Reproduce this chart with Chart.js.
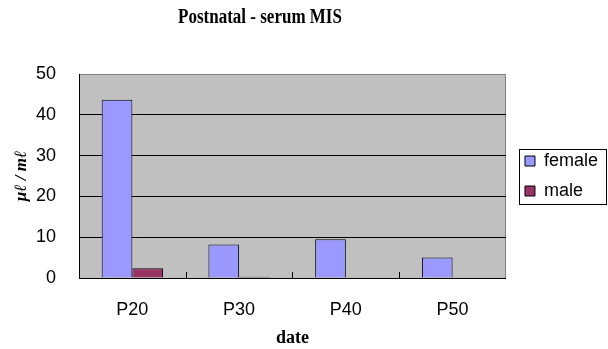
<!DOCTYPE html>
<html>
<head>
<meta charset="utf-8">
<script src="https://cdn.jsdelivr.net/npm/chart.js@4"></script>
<style>
  html, body { margin: 0; padding: 0; background: #fff; }
  #wrap { width: 608px; height: 349px; position: relative; }
</style>
</head>
<body>
<div id="wrap"><canvas id="chart"></canvas></div>
<script>
const categories = ["P20", "P30", "P40", "P50"];
const femaleValues = [43.7, 8.2, 9.5, 5.0];
const maleValues = [2.4, 0.3, 0, 0];
const yTicks = [0, 10, 20, 30, 40, 50];

const chartTitle = "Postnatal - serum MIS";

// grey plot background, outer frame, small category ticks, title and legend frame
const plotFrame = {
  id: "plotFrame",
  beforeDraw(chart) {
    const { ctx, chartArea: a } = chart;
    ctx.save();
    ctx.fillStyle = "#c0c0c0";
    ctx.fillRect(a.left, a.top, a.right - a.left, a.bottom - a.top);
    ctx.strokeStyle = "#808080";
    ctx.lineWidth = 1;
    ctx.strokeRect(a.left + 0.5, a.top + 0.5, a.right - a.left - 1, a.bottom - a.top);
    ctx.restore();
  },
  afterDatasetsDraw(chart) {
    const { ctx, chartArea: a, scales } = chart;
    const x = scales.x;
    const half = (x.getPixelForValue(1) - x.getPixelForValue(0)) / 2;
    ctx.save();
    ctx.strokeStyle = "#000";
    ctx.lineWidth = 1;
    ctx.beginPath();
    for (let i = 1; i < categories.length; i++) {
      const px = Math.round(x.getPixelForValue(i) - half) + 0.5;
      ctx.moveTo(px, a.bottom);
      ctx.lineTo(px, a.bottom - 6);
    }
    ctx.stroke();
    ctx.restore();
  },
  afterDraw(chart) {
    const { ctx } = chart;
    ctx.save();
    // condensed bold serif title
    ctx.fillStyle = "#000";
    ctx.font = "bold 20px 'Liberation Serif'";
    ctx.textAlign = "center";
    ctx.textBaseline = "middle";
    ctx.translate(260, 18);
    ctx.scale(0.85, 1);
    ctx.fillText(chartTitle, 0, 0);
    ctx.setTransform(1, 0, 0, 1, 0, 0);
    const boxes = chart.legend.legendHitBoxes;
    if (boxes && boxes.length) {
      const l = Math.min(...boxes.map(b => b.left)) - 6;
      const t = Math.min(...boxes.map(b => b.top)) - 3;
      const r = Math.max(...boxes.map(b => b.left + b.width)) + 8;
      const btm = Math.max(...boxes.map(b => b.top + b.height)) + 4;
      ctx.strokeStyle = "#000";
      ctx.lineWidth = 1;
      ctx.strokeRect(Math.round(l) + 0.5, Math.round(t) + 0.5, Math.round(r - l), Math.round(btm - t));
    }
    ctx.restore();
  }
};

new Chart(document.getElementById("chart").getContext("2d"), {
  type: "bar",
  data: {
    labels: categories,
    datasets: [
      {
        label: "female",
        data: femaleValues,
        backgroundColor: "#9999ff",
        borderColor: "#000",
        borderWidth: 1,
        categoryPercentage: 0.575,
        barPercentage: 1
      },
      {
        label: "male",
        data: maleValues,
        backgroundColor: "#993366",
        borderColor: "#000",
        borderWidth: 1,
        categoryPercentage: 0.575,
        barPercentage: 1
      }
    ]
  },
  options: {
    responsive: true,
    maintainAspectRatio: false,
    animation: false,
    layout: { padding: { top: 74, right: 0, bottom: 0, left: 0 } },
    plugins: {
      title: { display: false },
      tooltip: { enabled: false },
      legend: {
        position: "right",
        fullSize: false,
        labels: {
          boxWidth: 10,
          boxHeight: 10,
          padding: 12,
          color: "#000",
          font: { family: "'Liberation Sans'", size: 18 }
        }
      }
    },
    scales: {
      x: {
        offset: true,
        grid: { display: false },
        border: { display: true, color: "#000", width: 1 },
        ticks: { color: "#000", padding: 13, font: { family: "'Liberation Sans'", size: 18 } },
        title: {
          display: true,
          text: "date",
          color: "#000",
          padding: { top: 0, bottom: 0 },
          font: { family: "'Liberation Serif'", size: 18, weight: "bold" }
        },
        afterFit(scale) { scale.height = 71; }
      },
      y: {
        min: 0,
        max: 50,
        afterBuildTicks(scale) { scale.ticks = yTicks.map(v => ({ value: v })); },
        grid: {
          drawTicks: false,
          color: ctx => (ctx.tick && ctx.tick.value === 50 ? "rgba(0,0,0,0)" : "#000"),
          lineWidth: 1
        },
        border: { display: true, color: "#000", width: 1 },
        ticks: { color: "#000", padding: 23, font: { family: "'Liberation Sans'", size: 18 } },
        title: {
          display: true,
          text: "μℓ / mℓ",
          color: "#000",
          padding: { top: 11, bottom: 0 },
          font: { family: "'Liberation Serif'", size: 17, weight: "bold", style: "italic" }
        },
        afterFit(scale) { scale.width = 79; }
      },
      // empty spacer between plot and legend
      gap: {
        type: "linear",
        position: "right",
        display: true,
        grid: { display: false },
        border: { display: false },
        ticks: { display: false },
        afterFit(scale) { scale.width = 7; }
      }
    }
  },
  plugins: [plotFrame]
});
</script>
</body>
</html>
